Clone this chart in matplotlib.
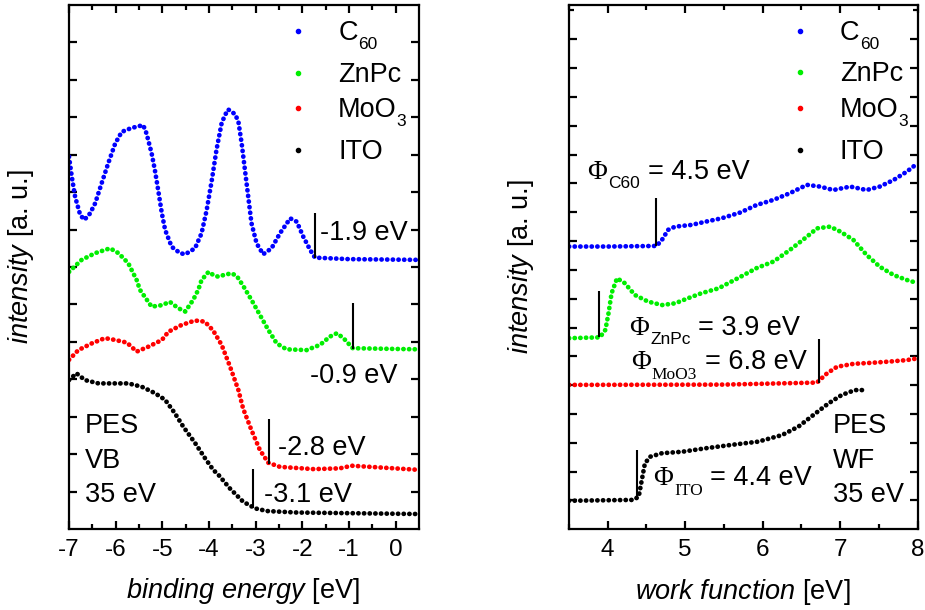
import matplotlib
matplotlib.use('Agg')
import matplotlib.pyplot as plt

plt.rcParams['font.family'] = ['Liberation Sans', 'DejaVu Sans']
plt.rcParams['mathtext.fontset'] = 'custom'
plt.rcParams['mathtext.rm'] = 'Liberation Serif'
plt.rcParams['mathtext.it'] = 'Liberation Sans:italic'
plt.rcParams['mathtext.sf'] = 'Liberation Sans'
plt.rcParams['axes.unicode_minus'] = False

# ---- valence band spectra (left panel), offset intensities ----
vb_c60_x = [-7.0, -6.94, -6.87, -6.76, -6.67, -6.55, -6.44, -6.30, -6.16, -6.01, -5.87, -5.69,
            -5.55, -5.41, -5.34, -5.23, -5.16, -5.09, -5.01, -4.94, -4.80, -4.62, -4.51, -4.30,
            -4.16, -4.05, -3.94, -3.84, -3.73, -3.66, -3.59, -3.52, -3.44, -3.37, -3.30, -3.23,
            -3.16, -3.09, -2.98, -2.84, -2.66, -2.48, -2.26, -2.12, -1.98, -1.83, -1.73, -1.0, 0.5]
vb_c60_y = [9.95, 9.41, 8.88, 8.39, 8.26, 8.43, 8.70, 9.24, 9.77, 10.30, 10.61, 10.70,
            10.75, 10.79, 10.57, 10.04, 9.59, 9.06, 8.43, 7.99, 7.54, 7.37, 7.34, 7.50,
            7.90, 8.52, 9.32, 10.13, 10.84, 11.05, 11.21, 11.15, 11.08, 10.88, 10.30, 9.59,
            8.88, 8.17, 7.63, 7.34, 7.50, 7.90, 8.30, 8.21, 7.81, 7.45, 7.25, 7.21, 7.19]

vb_znpc_x = [-7.0, -6.73, -6.44, -6.12, -5.94, -5.73, -5.55, -5.48, -5.23, -5.01, -4.84, -4.66,
             -4.51, -4.34, -4.23, -4.16, -4.01, -3.90, -3.80, -3.65, -3.51, -3.40, -3.27, -3.09,
             -2.91, -2.73, -2.55, -2.34, -1.91, -1.62, -1.41, -1.26, -1.12, -0.92, 0.5]
vb_znpc_y = [6.87, 7.19, 7.37, 7.50, 7.37, 7.10, 6.65, 6.39, 5.94, 5.98, 6.07, 5.90,
             5.81, 6.12, 6.39, 6.65, 6.87, 6.78, 6.74, 6.80, 6.83, 6.75, 6.50, 6.12,
             5.72, 5.32, 4.96, 4.80, 4.78, 4.92, 5.14, 5.23, 5.10, 4.83, 4.80]

vb_moo3_x = [-7.0, -6.80, -6.51, -6.23, -6.01, -5.76, -5.55, -5.30, -5.01, -4.87, -4.59, -4.30,
             -4.09, -3.91, -3.73, -3.55, -3.37, -3.27, -3.09, -2.91, -2.73, -2.48, -1.76, -1.2,
             -0.94, 0.5]
vb_moo3_y = [4.52, 4.78, 4.96, 5.10, 5.05, 4.98, 4.74, 4.87, 5.05, 5.27, 5.45, 5.57,
             5.54, 5.30, 4.92, 4.34, 3.71, 3.22, 2.64, 2.11, 1.77, 1.66, 1.60, 1.62,
             1.69, 1.58]

vb_ito_x = [-7.0, -6.84, -6.66, -6.37, -6.01, -5.73, -5.44, -5.16, -4.94, -4.73, -4.55, -4.30,
            -4.09, -3.91, -3.80, -3.55, -3.27, -3.01, -2.76, -2.12, 0.5]
vb_ito_y = [3.98, 4.16, 3.98, 3.89, 3.89, 3.89, 3.80, 3.63, 3.45, 3.09, 2.73, 2.30,
            1.90, 1.58, 1.45, 1.08, 0.73, 0.55, 0.48, 0.44, 0.40]

# onset markers (x, y bottom, y top) and labels
vb_edge_x = [-1.73, -0.92, -2.71, -3.06]
vb_edge_lo = [7.24, 4.82, 1.74, 0.55]
vb_edge_hi = [8.43, 6.03, 2.93, 1.59]
vb_labels = ['-1.9 eV', '-0.9 eV', '-2.8 eV', '-3.1 eV']
vb_label_x = [-1.62, -1.83, -2.52, -2.82]
vb_label_y = [7.72, 3.91, 1.98, 0.73]

# ---- work function (secondary electron cutoff, right panel) ----
wf_c60_x = [3.5, 4.0, 4.63, 4.70, 4.78, 4.87, 5.08, 5.26, 5.47, 5.71, 5.92, 6.14, 6.35, 6.57,
            6.74, 6.91, 7.13, 7.34, 7.51, 7.69, 7.86, 8.0]
wf_c60_y = [9.81, 9.81, 9.83, 10.04, 10.39, 10.50, 10.56, 10.67, 10.79, 10.99, 11.25, 11.43,
            11.66, 11.95, 11.89, 11.77, 11.89, 11.77, 11.89, 12.12, 12.41, 12.70]

wf_znpc_x = [3.5, 3.90, 3.97, 4.01, 4.05, 4.12, 4.22, 4.35, 4.52, 4.70, 4.87, 5.04, 5.21, 5.43,
             5.70, 5.92, 6.14, 6.35, 6.57, 6.70, 6.87, 7.00, 7.17, 7.34, 7.51, 7.69, 7.86, 8.0]
wf_znpc_y = [6.63, 6.66, 6.92, 7.49, 8.19, 8.71, 8.54, 8.13, 7.90, 7.78, 7.84, 8.02, 8.19, 8.36,
             8.74, 9.06, 9.29, 9.69, 10.15, 10.44, 10.50, 10.33, 10.04, 9.52, 9.11, 8.82, 8.65, 8.54]

wf_moo3_x = [3.5, 5.5, 6.70, 6.83, 6.96, 7.17, 7.43, 7.64, 7.86, 8.0]
wf_moo3_y = [5.01, 5.02, 5.09, 5.41, 5.64, 5.74, 5.78, 5.82, 5.87, 5.93]

wf_ito_x = [3.5, 4.33, 4.40, 4.44, 4.48, 4.55, 4.70, 4.96, 5.26, 5.60, 5.94, 6.25, 6.46, 6.68,
            6.85, 7.02, 7.19, 7.34]
wf_ito_y = [0.99, 1.02, 1.13, 1.71, 2.29, 2.52, 2.64, 2.69, 2.81, 2.93, 3.04, 3.27, 3.56, 4.02,
            4.37, 4.66, 4.83, 4.83]

wf_edge_x = [4.62, 3.89, 6.73, 4.375]
wf_edge_lo = [9.83, 6.66, 5.09, 1.02]
wf_edge_hi = [11.48, 8.25, 6.59, 2.75]
# work function labels: Phi, subscript, value
wf_sub = ['C60', 'ZnPc', 'MoO3', 'ITO']
wf_sub_serif = [False, False, True, True]
wf_value = ['= 4.5 eV', '= 3.9 eV', '= 6.8 eV', '= 4.4 eV']
wf_phi_x = [3.73, 4.28, 4.30, 4.58]
wf_phi_y = [12.15, 6.74, 5.55, 1.54]
wf_sub_x = [4.01, 4.546, 4.57, 4.856]
wf_sub_y = [11.83, 6.42, 5.20, 1.19]
wf_value_x = [4.525, 5.17, 5.256, 5.32]

names = ['C', 'ZnPc', 'MoO', 'ITO']
name_subs = ['60', '', '3', '']
colors = ['#0000ff', '#00ee00', '#ff0000', '#000000']

FS = 19.5
FS_SUB = 12.5


def dotted(ax, x, y, color):
    ax.plot(x, y, color=color, lw=3.4, ls=(0, (0.05, 1.15)),
            dash_capstyle='round', solid_capstyle='round')


def style(ax, xlim, ylim, yticks):
    ax.set_xlim(*xlim)
    ax.set_ylim(*ylim)
    ax.set_yticks(yticks)
    for s in ax.spines.values():
        s.set_linewidth(1.6)
    ax.tick_params(which='both', direction='in', top=True, right=True,
                   width=1.6, labelleft=False, labelsize=17.5, pad=7)
    ax.tick_params(which='major', length=6)
    ax.tick_params(which='minor', length=3.5)


def legend(ax, mx, tx, subx):
    my = [0.950, 0.871, 0.803, 0.723]
    ty = [0.933, 0.854, 0.786, 0.706]
    for i in range(4):
        ax.plot(mx, my[i], 'o', ms=3, color=colors[i], transform=ax.transAxes)
        ax.text(tx, ty[i], names[i], transform=ax.transAxes, fontsize=FS, va='baseline')
        if name_subs[i]:
            ax.text(subx[i], ty[i] - 0.0178, name_subs[i], transform=ax.transAxes,
                    fontsize=FS_SUB, va='baseline')


fig = plt.figure(figsize=(9.25, 6.1), dpi=100)
ax1 = fig.add_axes([0.0746, 0.1328, 0.3784, 0.859])
ax2 = fig.add_axes([0.6151, 0.1323, 0.3770, 0.860])

# left: valence band
for x, y, c in zip([vb_c60_x, vb_znpc_x, vb_moo3_x, vb_ito_x],
                   [vb_c60_y, vb_znpc_y, vb_moo3_y, vb_ito_y], colors):
    dotted(ax1, x, y, c)
ax1.vlines(vb_edge_x, vb_edge_lo, vb_edge_hi, color='black', lw=1.5)
for s, x, y in zip(vb_labels, vb_label_x, vb_label_y):
    ax1.text(x, y, s, fontsize=FS, va='baseline')
for s, y in zip(['PES', 'VB', '35 eV'], [2.57, 1.64, 0.73]):
    ax1.text(-6.66, y, s, fontsize=FS, va='baseline')
style(ax1, (-7, 0.5), (0, 14), range(1, 14))
ax1.set_xticks(range(-7, 1))
ax1.set_xticks([v + 0.5 for v in range(-7, 0)], minor=True)
legend(ax1, 0.653, 0.769, [0.8266, 0, 0.936, 0])
ax1.set_xlabel(r'$\mathit{binding\ energy}$ [eV]', fontsize=FS)
ax1.set_ylabel(r'$\mathit{intensity}$ [a. u.]', fontsize=FS)
ax1.xaxis.set_label_coords(0.497, -0.09)
ax1.yaxis.set_label_coords(-0.094, 0.519)

# right: work function
for x, y, c in zip([wf_c60_x, wf_znpc_x, wf_moo3_x, wf_ito_x],
                   [wf_c60_y, wf_znpc_y, wf_moo3_y, wf_ito_y], colors):
    dotted(ax2, x, y, c)
ax2.vlines(wf_edge_x, wf_edge_lo, wf_edge_hi, color='black', lw=1.5)
for i in range(4):
    ax2.text(wf_phi_x[i], wf_phi_y[i], '\u03a6', fontsize=FS, va='baseline',
             family='Liberation Serif')
    ax2.text(wf_sub_x[i], wf_sub_y[i], wf_sub[i], fontsize=FS_SUB, va='baseline',
             family='Liberation Serif' if wf_sub_serif[i] else 'Liberation Sans')
    ax2.text(wf_value_x[i], wf_phi_y[i], wf_value[i], fontsize=FS, va='baseline')
for s, y in zip(['PES', 'WF', '35 eV'], [3.35, 2.14, 0.96]):
    ax2.text(6.91, y, s, fontsize=FS, va='baseline')
style(ax2, (3.5, 8), (0, 18.2), range(1, 18))
ax2.set_yticks([18], minor=True)
ax2.set_xticks(range(4, 9))
ax2.set_xticks([3.5 + v for v in range(0, 5)], minor=True)
legend(ax2, 0.662, 0.777, [0.8345, 0, 0.944, 0])
ax2.set_xlabel(r'$\mathit{work\ function}$ [eV]', fontsize=FS)
ax2.set_ylabel(r'$\mathit{intensity}$ [a. u.]', fontsize=FS)
ax2.xaxis.set_label_coords(0.499, -0.09)
ax2.yaxis.set_label_coords(-0.095, 0.5)

fig.savefig('out.png', dpi=100)
